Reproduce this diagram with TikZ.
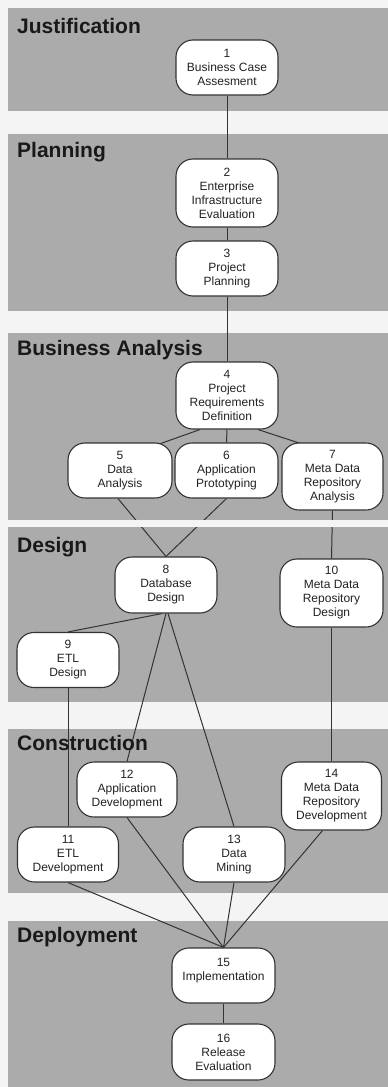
\documentclass[tikz,border=0pt]{standalone}
\usepackage{fontspec}
\setmainfont{Liberation Sans}
\usetikzlibrary{backgrounds}
\definecolor{band}{HTML}{ABABAB}
\definecolor{gap}{HTML}{F4F4F4}
\definecolor{ink}{HTML}{222222}
\definecolor{edge}{HTML}{333333}
\tikzset{
  phase/.style={draw=edge, fill=white, line width=1.1pt, rounded corners=17pt,
    align=center, inner sep=0pt, minimum width=102pt, minimum height=55pt,
    text=ink, font=\fontsize{12}{14}\selectfont},
  tall/.style={minimum height=68pt},
  stage/.style={anchor=base west, inner sep=0pt, text=black!90,
    font=\fontsize{21}{24}\selectfont\bfseries},
  link/.style={draw=edge, line width=1pt},
  bandbox/.style={fill=band, draw=none},
}
\begin{document}
\begin{tikzpicture}[x=1pt, y=-1pt]
\useasboundingbox (0,0) rectangle (388,1087);
% nodes
\node[phase] (n1) at (227,67.5) {1\\Business Case\\Assesment};
\node[phase, tall] (n2) at (227,193) {2\\Enterprise\\Infrastructure\\Evaluation};
\node[phase] (n3) at (227,268.5) {3\\Project\\Planning};
\node[phase, minimum height=67pt] (n4) at (227,395.5) {4\\Project\\Requirements\\Definition};
\node[phase, minimum width=104pt] (n5) at (120,470.5) {5\\Data\\Analysis};
\node[phase, minimum width=103pt] (n6) at (226.5,470.5) {6\\Application\\Prototyping};
\node[phase, minimum width=101pt, minimum height=67pt] (n7) at (332.5,476.5) {7\\Meta Data\\Repository\\Analysis};
\node[phase, minimum height=56pt] (n8) at (166,585) {8\\Database\\Design};
\node[phase] (n9) at (68,660) {9\\ETL\\Design};
\node[phase, tall, minimum width=103pt] (n10) at (331.5,593) {10\\Meta Data\\Repository\\Design};
\node[phase, minimum width=101pt] (n11) at (68,854.5) {11\\ETL\\Development};
\node[phase, minimum width=100pt] (n12) at (127,789.5) {12\\Application\\Development};
\node[phase] (n13) at (234,854.5) {13\\Data\\Mining};
\node[phase, tall, minimum width=100pt] (n14) at (331.5,796) {14\\Meta Data\\Repository\\Development};
\node[phase, minimum width=103pt] (n15) at (223.5,975.5) {15\\Implementation\\[-2pt]};
\node[phase, minimum width=103pt, minimum height=56pt] (n16) at (223.5,1052) {16\\Release\\Evaluation};
% stage titles
\node[stage] (tj) at (17,33) {Justification};
\node[stage] (tp) at (17,157) {Planning};
\node[stage] (tb) at (17,355) {Business Analysis};
\node[stage] (td) at (17,552) {Design};
\node[stage] (tc) at (17,750) {Construction};
\node[stage] (tde) at (17,942) {Deployment};
\begin{scope}[on background layer]
  \fill[gap] (0,0) rectangle (388,1087);
  \fill[bandbox] (8,8) rectangle (388,111);
  \fill[bandbox] (8,134) rectangle (388,311);
  \fill[bandbox] (8,333) rectangle (388,520);
  \fill[bandbox] (8,527) rectangle (388,702);
  \fill[bandbox] (8,729) rectangle (388,893);
  \fill[bandbox] (8,921) rectangle (388,1087);
  % connectors
  \draw[link] (n1.south) -- (n2.north);
  \draw[link] (n2.south) -- (n3.north);
  \draw[link] (n3.south) -- (n4.north);
  \draw[link] ([xshift=-27pt]n4.south) -- ([xshift=38pt,yshift=-2pt]n5.north);
  \draw[link] (n4.south) -- (n6.north);
  \draw[link] ([xshift=31pt]n4.south) -- ([xshift=-32pt,yshift=-1pt]n7.north);
  \draw[link] ([xshift=-2pt]n5.south) -- (n8.north);
  \draw[link] (n6.south) -- (n8.north);
  \draw[link] (n7.south) -- (n10.north);
  \draw[link] ([xshift=-4pt]n8.south) -- (n9.north);
  \draw[link] (n8.south) -- (n12.north);
  \draw[link] ([xshift=2pt]n8.south) -- (n13.north);
  \draw[link] (n9.south) -- (n11.north);
  \draw[link] (n10.south) -- (n14.north);
  \draw[link] (n11.south) -- (n15.north);
  \draw[link] (n12.south) -- (n15.north);
  \draw[link] (n13.south) -- (n15.north);
  \draw[link] ([xshift=-9pt]n14.south) -- (n15.north);
  \draw[link] (n15.south) -- (n16.north);
  % white strip that interrupts the lines between Business Analysis and Design
  \fill[gap] (8,520) rectangle (388,527);
\end{scope}
\end{tikzpicture}
\end{document}
